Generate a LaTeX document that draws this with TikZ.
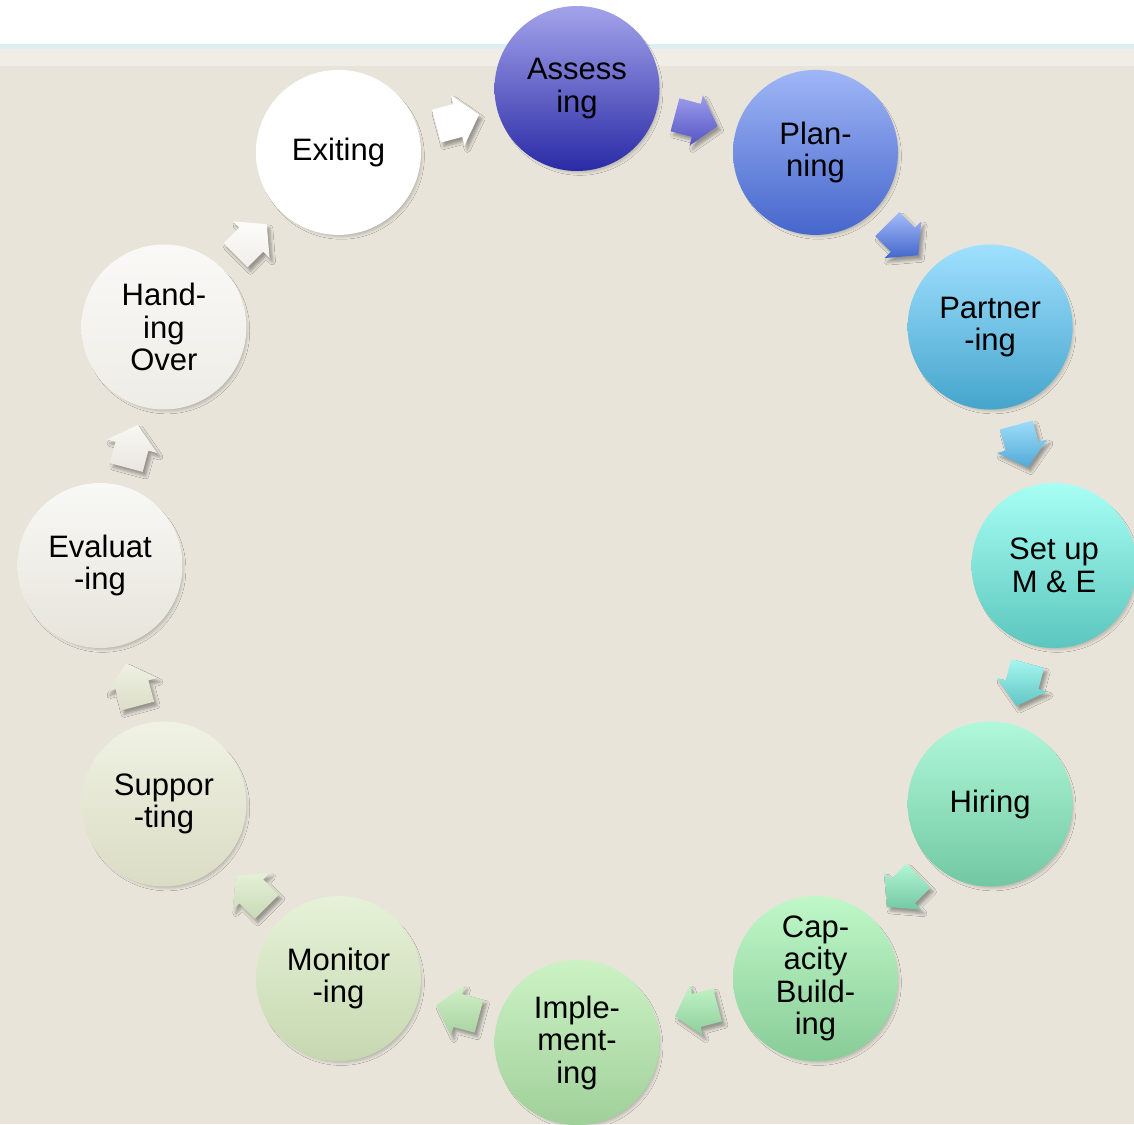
\documentclass[tikz,border=0pt]{standalone}
\usepackage{fontspec}
\setmainfont{Liberation Sans}
\usetikzlibrary{calc,shadows.blur}

% page background
\definecolor{bgbeige}{HTML}{E8E4DA}
\definecolor{bgband}{HTML}{F0EDE7}
\definecolor{bgline}{HTML}{DCEEEF}

% circle gradients (top / bottom)
\definecolor{c1t}{HTML}{A3A3EB}\definecolor{c1b}{HTML}{2A2AA6}
\definecolor{c2t}{HTML}{9FB6F6}\definecolor{c2b}{HTML}{4666CC}
\definecolor{c3t}{HTML}{A0E0FF}\definecolor{c3b}{HTML}{45A5CC}
\definecolor{c4t}{HTML}{A8FFF4}\definecolor{c4b}{HTML}{5CC6BE}
\definecolor{c5t}{HTML}{B0F8DA}\definecolor{c5b}{HTML}{72C8A2}
\definecolor{c6t}{HTML}{C0F8C8}\definecolor{c6b}{HTML}{88CC98}
\definecolor{c7t}{HTML}{CCF2C4}\definecolor{c7b}{HTML}{A0D09A}
\definecolor{c8t}{HTML}{E6F2D8}\definecolor{c8b}{HTML}{C6D8B0}
\definecolor{c9t}{HTML}{F0F2E4}\definecolor{c9b}{HTML}{DADCC4}
\definecolor{c10t}{HTML}{F8F8F6}\definecolor{c10b}{HTML}{E6E4DA}
\definecolor{c11t}{HTML}{FAF9F7}\definecolor{c11b}{HTML}{EEECE6}
\definecolor{c12t}{HTML}{FFFFFF}\definecolor{c12b}{HTML}{FFFFFF}

% arrow gradients (top / bottom)
\definecolor{a1t}{HTML}{9C9CEC}\definecolor{a1b}{HTML}{5454C4}
\definecolor{a2t}{HTML}{A4BCF8}\definecolor{a2b}{HTML}{4466CC}
\definecolor{a3t}{HTML}{9EDCFA}\definecolor{a3b}{HTML}{52AAD6}
\definecolor{a4t}{HTML}{A6F6F0}\definecolor{a4b}{HTML}{62C6C4}
\definecolor{a5t}{HTML}{B2F6D4}\definecolor{a5b}{HTML}{74C8A4}
\definecolor{a6t}{HTML}{C2F4C6}\definecolor{a6b}{HTML}{8ECE9C}
\definecolor{a7t}{HTML}{D0F0C8}\definecolor{a7b}{HTML}{A8D2A0}
\definecolor{a8t}{HTML}{E4F0D6}\definecolor{a8b}{HTML}{C8DAB8}
\definecolor{a9t}{HTML}{EEF0E2}\definecolor{a9b}{HTML}{DCDEC8}
\definecolor{a10t}{HTML}{F8F8F4}\definecolor{a10b}{HTML}{E8E6DE}
\definecolor{a11t}{HTML}{FCFCFA}\definecolor{a11b}{HTML}{F0EEEA}
\definecolor{a12t}{HTML}{FFFFFF}\definecolor{a12b}{HTML}{FFFFFF}

\tikzset{
  stage/.style={circle, minimum size=165pt, inner sep=0pt, align=center,
    font=\fontsize{31}{32.5}\selectfont,
    blur shadow={shadow xshift=3pt, shadow yshift=-4pt, shadow scale=0.97,
      shadow blur radius=3pt, shadow opacity=22}},
  flowshade/.style={blur shadow={shadow xshift=3pt, shadow yshift=-4pt,
      shadow blur radius=3pt, shadow opacity=35}}
}

% block arrow placed halfway between two stage nodes, pointing from #1 to #2
\newcommand{\flowarrow}[4]{%
  \coordinate (fm) at ($(#1)!0.5!(#2)$);
  \coordinate (fb) at ($(fm)!22pt!180:(#2)$);
  \coordinate (ft) at ($(fm)!22pt!(#2)$);
  \shade[flowshade, top color=#3, bottom color=#4]
    ($(fb)!17pt!90:(#2)$) -- ($(fm)!17pt!90:(#2)$) -- ($(fm)!26pt!90:(#2)$)
    -- (ft) -- ($(fm)!26pt!-90:(#2)$) -- ($(fm)!17pt!-90:(#2)$)
    -- ($(fb)!17pt!-90:(#2)$) -- cycle;
}

\begin{document}
\begin{tikzpicture}[x=1pt, y=1pt]
  \useasboundingbox (0,0) rectangle (1134,-1124);
  \clip (0,0) rectangle (1134,-1124);

  % background bands
  \fill[white] (0,0) rectangle (1134,-44);
  \fill[bgline] (0,-44) rectangle (1134,-49);
  \fill[bgband] (0,-49) rectangle (1134,-66);
  \fill[bgbeige] (0,-66) rectangle (1134,-1124);

  \coordinate (C) at (577,-565.5);

  % stages, clockwise from the top
  \foreach \i/\txt in {1/{Assess\\ing}, 2/{Plan-\\ning}, 3/{Partner\\-ing},
      4/{Set up\\M \& E}, 5/{Hiring}, 6/{Cap-\\acity\\Build-\\ing},
      7/{Imple-\\ment-\\ing}, 8/{Monitor\\-ing}, 9/{Suppor\\-ting},
      10/{Evaluat\\-ing}, 11/{Hand-\\ing\\Over}, 12/{Exiting}} {
    \pgfmathsetmacro{\ang}{90-30*(\i-1)}
    \node[stage, top color=c\i t, bottom color=c\i b] (s\i)
      at ([shift={(\ang:477)}]C) {\txt};
  }

  % arrows between consecutive stages
  \flowarrow{s12}{s1}{a12t}{a12b}
  \flowarrow{s1}{s2}{a1t}{a1b}
  \flowarrow{s2}{s3}{a2t}{a2b}
  \flowarrow{s3}{s4}{a3t}{a3b}
  \flowarrow{s4}{s5}{a4t}{a4b}
  \flowarrow{s5}{s6}{a5t}{a5b}
  \flowarrow{s6}{s7}{a6t}{a6b}
  \flowarrow{s7}{s8}{a7t}{a7b}
  \flowarrow{s8}{s9}{a8t}{a8b}
  \flowarrow{s9}{s10}{a9t}{a9b}
  \flowarrow{s10}{s11}{a10t}{a10b}
  \flowarrow{s11}{s12}{a11t}{a11b}
\end{tikzpicture}
\end{document}
